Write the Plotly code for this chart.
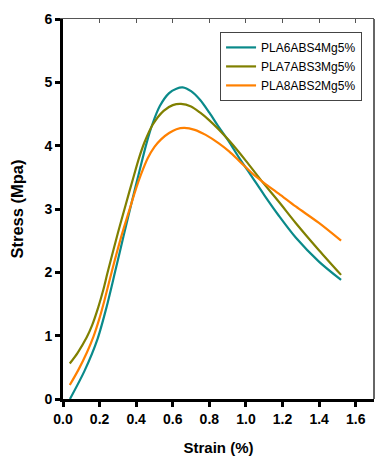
import plotly.graph_objects as go

# Data
teal_x = [0.038, 0.117, 0.189, 0.238, 0.284, 0.33, 0.375, 0.418, 0.455, 0.49, 0.53, 0.58, 0.62, 0.654,
          0.70, 0.75, 0.80, 0.85, 0.908, 0.96, 1.035, 1.10, 1.181, 1.272, 1.399, 1.52]
teal_y = [0.00, 0.44, 0.95, 1.45, 2.00, 2.56, 3.10, 3.60, 4.02, 4.35, 4.63, 4.83, 4.90, 4.92,
          4.86, 4.72, 4.52, 4.30, 4.06, 3.82, 3.50, 3.22, 2.89, 2.55, 2.17, 1.88]

olive_x = [0.037, 0.08, 0.129, 0.16, 0.193, 0.22, 0.244, 0.30, 0.342, 0.382, 0.415, 0.445, 0.49, 0.55, 0.60, 0.645,
           0.70, 0.75, 0.80, 0.85, 0.908, 1.00, 1.081, 1.181, 1.272, 1.399, 1.52]
olive_y = [0.56, 0.73, 0.97, 1.17, 1.45, 1.72, 2.00, 2.62, 3.06, 3.47, 3.80, 4.05, 4.33, 4.55, 4.64, 4.66,
           4.62, 4.52, 4.40, 4.26, 4.08, 3.76, 3.46, 3.11, 2.78, 2.35, 1.96]

orange_x = [0.037, 0.084, 0.13, 0.166, 0.20, 0.225, 0.27, 0.32, 0.372, 0.40, 0.427, 0.463, 0.50, 0.536, 0.58, 0.62, 0.663,
            0.72, 0.78, 0.85, 0.908, 0.97, 1.035, 1.10, 1.181, 1.272, 1.399, 1.52]
orange_y = [0.22, 0.46, 0.73, 0.98, 1.28, 1.54, 2.05, 2.58, 3.07, 3.33, 3.55, 3.80, 3.98, 4.10, 4.20, 4.26, 4.28,
            4.25, 4.17, 4.04, 3.91, 3.74, 3.56, 3.41, 3.24, 3.04, 2.78, 2.50]

series_names = ["PLA6ABS4Mg5%", "PLA7ABS3Mg5%", "PLA8ABS2Mg5%"]
colors = ["#0A8A8A", "#808000", "#FF8000"]

x_ticks = [0.0, 0.2, 0.4, 0.6, 0.8, 1.0, 1.2, 1.4, 1.6]
x_tick_text = ["0.0", "0.2", "0.4", "0.6", "0.8", "1.0", "1.2", "1.4", "1.6"]
y_ticks = [0, 1, 2, 3, 4, 5, 6]

fig = go.Figure()
for xs, ys, name, c in zip([teal_x, olive_x, orange_x], [teal_y, olive_y, orange_y], series_names, colors):
    fig.add_trace(go.Scatter(x=xs, y=ys, mode="lines", name=name,
                             line=dict(color=c, width=2.2, shape="spline", smoothing=0.8)))

# invisible trace to carry top axis
fig.add_trace(go.Scatter(x=[0], y=[0], xaxis="x2", yaxis="y", mode="none", showlegend=False, hoverinfo="skip"))

font_family = "Liberation Sans, Arial, sans-serif"

fig.update_layout(
    width=376, height=457,
    margin=dict(l=63, r=2, t=19, b=58),
    paper_bgcolor="white", plot_bgcolor="white",
    font=dict(family=font_family, color="black"),
    showlegend=True,
    legend=dict(x=0.505, y=0.966, xanchor="left", yanchor="top",
                bgcolor="white", bordercolor="#444444", borderwidth=1,
                font=dict(family=font_family, size=12, color="black"),
                itemwidth=30, tracegroupgap=0),
    xaxis=dict(range=[0, 1.7], tickvals=x_ticks, ticktext=x_tick_text,
               ticks="outside", ticklen=5, tickwidth=2.5, tickcolor="black",
               showline=True, linecolor="black", linewidth=3,
               showgrid=False, zeroline=False,
               tickfont=dict(family=font_family, size=14, color="black", weight="bold"),
               title=dict(text="<b>Strain (%)</b>", font=dict(family=font_family, size=15), standoff=17)),
    xaxis2=dict(range=[0, 1.7], overlaying="x", side="top", tickvals=x_ticks,
                ticks="inside", ticklen=4, tickwidth=1, tickcolor="#555555",
                showline=True, linecolor="#555555", linewidth=1,
                showticklabels=False, showgrid=False, zeroline=False),
    yaxis=dict(range=[0, 6], tickvals=y_ticks,
               ticks="outside", ticklen=5, tickwidth=2.5, tickcolor="black",
               showline=True, linecolor="black", linewidth=3,
               showgrid=False, zeroline=False,
               tickfont=dict(family=font_family, size=14, color="black", weight="bold"),
               title=dict(text="<b>Stress (Mpa)</b>", font=dict(family=font_family, size=16.5), standoff=17)),
    shapes=[dict(type="line", xref="paper", yref="paper", x0=1, x1=1, y0=0, y1=1,
                 line=dict(color="#333333", width=1.5))],
)

fig.write_html("out.html")
